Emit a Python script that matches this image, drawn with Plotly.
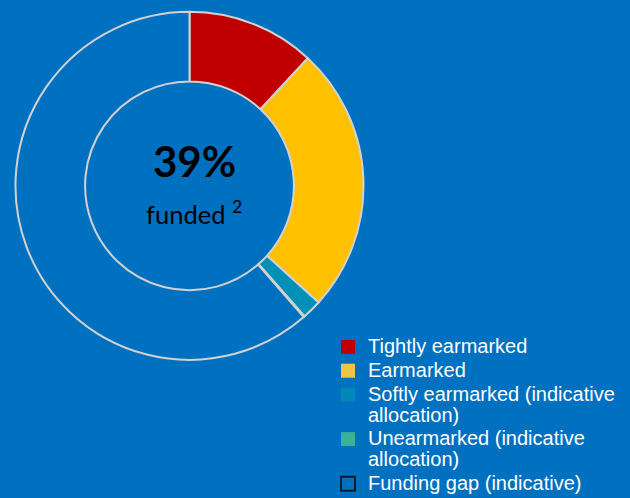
import plotly.graph_objects as go

# ---- data ----
categories = [
    "Tightly earmarked",
    "Earmarked",
    "Softly earmarked (indicative<br>allocation)",
    "Unearmarked (indicative<br>allocation)",
    "Funding gap (indicative)",
]
shares = [11.9, 24.8, 1.8, 0.1, 61.4]
funded_label = "39%"
funded_caption = "funded <sup>2</sup>"

# ---- styles ----
bg = "#0070C0"
slice_colors = ["#C00000", "#FFC000", "#0090B8", "#3BB09A", bg]
legend_colors = ["#C00000", "#F2C443", "#0088B8", "#3BB09A", bg]
legend_lines = [bg, bg, bg, bg, "#0D1B2A"]
legend_line_w = [0, 0, 0, 0, 2]

fig = go.Figure()

fig.add_trace(go.Pie(
    labels=categories,
    values=shares,
    sort=False,
    direction="clockwise",
    rotation=0,
    hole=0.6,
    marker=dict(colors=slice_colors, line=dict(color="#D2D2D2", width=2)),
    textinfo="none",
    hoverinfo="label+percent",
    showlegend=False,
    domain=dict(x=[0.0246, 0.577], y=[0.2775, 0.9763]),
))

for name, col, lc, lw in zip(categories, legend_colors, legend_lines, legend_line_w):
    fig.add_trace(go.Scatter(
        x=[None], y=[None], mode="markers", name=f'<span style="font-size:20px">{name}</span>',
        marker=dict(symbol="square", size=14, color=col, line=dict(color=lc, width=lw)),
        hoverinfo="skip",
    ))

fig.add_annotation(text=f"<b>{funded_label}</b>", x=194 / 630, y=1 - 161 / 498,
                   xref="paper", yref="paper", showarrow=False,
                   font=dict(family="Lato", size=42, color="#000000"),
                   xanchor="center", yanchor="middle")
fig.add_annotation(text=funded_caption, x=194 / 630, y=1 - 212 / 498,
                   xref="paper", yref="paper", showarrow=False,
                   font=dict(family="Lato", size=25.5, color="#000000"),
                   xanchor="center", yanchor="middle")

fig.update_layout(
    width=630, height=498,
    margin=dict(l=0, r=0, t=0, b=0, autoexpand=False),
    paper_bgcolor=bg, plot_bgcolor=bg,
    xaxis=dict(visible=False), yaxis=dict(visible=False),
    showlegend=True,
    legend=dict(
        x=328 / 630, y=1 - 330 / 498, xanchor="left", yanchor="top",
        font=dict(family="Liberation Sans, Arial", size=16, color="#FFFFFF"),
        bgcolor="rgba(0,0,0,0)", borderwidth=0,
        valign="top", traceorder="normal", tracegroupgap=0,
    ),
)

fig.write_html(
    "out.html",
    config={"displayModeBar": False},
    post_script="document.body.style.margin='0';document.body.style.overflow='hidden';",
)
